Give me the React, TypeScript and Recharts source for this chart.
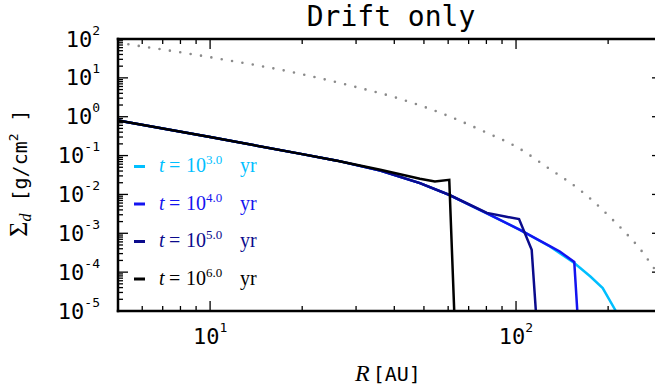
import { LineChart, Line, XAxis, YAxis } from "recharts"

// radius [AU] and dust surface density [g/cm^2]
const rInner = [5, 10, 20, 26, 36]
const sigmaInner = [0.8, 0.3, 0.109, 0.074, 0.041]

const r1e3 = [48.5, 60.4, 80.3, 103, 129, 155, 175, 192, 212]
const sigma1e3 = [0.0195, 0.0098, 0.00327, 0.00123, 4.58e-4, 1.72e-4, 7.7e-5, 3.9e-5, 1e-5]

const r1e4 = [48.5, 60.4, 80.3, 103, 129, 139, 155, 158.6]
const sigma1e4 = [0.0195, 0.0098, 0.00327, 0.00123, 4.7e-4, 3.4e-4, 1.82e-4, 1e-5]

const r1e5 = [48.5, 60.4, 80.3, 92.1, 102.3, 112.5, 116.1]
const sigma1e5 = [0.0195, 0.0098, 0.00335, 0.0027, 0.00232, 3.77e-4, 1e-5]

const r1e6 = [48.5, 54.3, 60.5, 62.8]
const sigma1e6 = [0.0252, 0.0215, 0.0237, 1e-5]

// gas profile (grey dotted)
const rGas = [5, 10, 20, 30, 40, 60, 80, 100, 130, 160, 180, 205, 228, 254, 280, 300]
const sigmaGas = [80, 34, 12.4, 5.8, 3.2, 1.05, 0.39, 0.17, 0.043, 0.0139, 0.0064, 0.0024, 0.00103, 4.0e-4, 1.4e-4, 6.5e-5]

const timeLabels = ["3.0", "4.0", "5.0", "6.0"]
const colors = ["#00bfff", "#1414f0", "#0b0b8c", "#000000"]

const xTicks = [6, 7, 8, 9, 10, 20, 30, 40, 50, 60, 70, 80, 90, 100, 200]
const yDecades = [-5, -4, -3, -2, -1, 0, 1, 2]
const minorSteps = [2, 3, 4, 5, 6, 7, 8, 9]

const yTicks: number[] = []
yDecades.forEach((d) => {
  yTicks.push(Math.pow(10, d))
  if (d < 2) minorSteps.forEach((m) => yTicks.push(m * Math.pow(10, d)))
})

const pts = (r: number[], s: number[]) => r.map((v, i) => ({ r: v, s: s[i] }))

const dustSeries = [
  pts([...rInner, ...r1e3], [...sigmaInner, ...sigma1e3]),
  pts([...rInner, ...r1e4], [...sigmaInner, ...sigma1e4]),
  pts([...rInner, ...r1e5], [...sigmaInner, ...sigma1e5]),
  pts([...rInner.slice(0, 4), 36, ...r1e6], [...sigmaInner.slice(0, 4), 0.043, ...sigma1e6]),
]
const gasData = pts(rGas, sigmaGas)

const mono = "DejaVu Sans Mono"
const serif = "Liberation Serif"

const isMajor = (v: number) => {
  const l = Math.log10(v)
  return Math.abs(l - Math.round(l)) < 1e-6
}
const expOf = (v: number) => String(Math.round(Math.log10(v)))

function TickLabel({ x, y, v, anchor }: any) {
  return (
    <text x={x} y={y} textAnchor={anchor} fontFamily={mono} fontSize={22} fill="#000">
      10<tspan dy={-12} fontSize={13}>{expOf(v)}</tspan>
    </text>
  )
}

function BottomTick({ x, y, payload }: any) {
  const major = isMajor(payload.value)
  return (
    <g>
      <line x1={x} x2={x} y1={y} y2={y - (major ? 10 : 5)} stroke="#000" strokeWidth={1.3} />
      {major && <TickLabel x={x} y={y + 33} v={payload.value} anchor="middle" />}
    </g>
  )
}

function TopTick({ x, y, payload }: any) {
  const major = isMajor(payload.value)
  return <line x1={x} x2={x} y1={y} y2={y + (major ? 10 : 5)} stroke="#000" strokeWidth={1.3} />
}

function LeftTick({ x, y, payload }: any) {
  const major = isMajor(payload.value)
  return (
    <g>
      <line x1={x} x2={x + (major ? 10 : 5)} y1={y} y2={y} stroke="#000" strokeWidth={1.3} />
      {major && <TickLabel x={x - 18} y={y + 7.5} v={payload.value} anchor="end" />}
    </g>
  )
}

function RightTick({ x, y, payload }: any) {
  const major = isMajor(payload.value)
  return <line x1={x} x2={x - (major ? 10 : 5)} y1={y} y2={y} stroke="#000" strokeWidth={1.3} />
}

const spine = { stroke: "#000", strokeWidth: 2.5, strokeLinecap: "square" as const }
const legendY = [166.5, 204, 241.5, 279]

export default function App() {
  return (
    <div style={{ position: "fixed", left: 0, top: 0, width: 655, height: 391, overflow: "hidden", background: "#fff" }}>
      <LineChart width={680} height={391} margin={{ top: 0, right: 0, bottom: 0, left: 0 }}>
        <XAxis
          dataKey="r"
          type="number"
          scale="log"
          domain={[5, 300]}
          allowDataOverflow
          ticks={xTicks}
          interval={0}
          height={80}
          tickSize={0}
          tickMargin={0}
          tickLine={false}
          axisLine={spine}
          tick={(p: any) => <BottomTick {...p} />}
        />
        <XAxis
          xAxisId="top"
          orientation="top"
          dataKey="r"
          type="number"
          scale="log"
          domain={[5, 300]}
          allowDataOverflow
          ticks={xTicks}
          interval={0}
          height={39}
          tickSize={0}
          tickMargin={0}
          tickLine={false}
          axisLine={spine}
          tick={(p: any) => <TopTick {...p} />}
        />
        <YAxis
          dataKey="s"
          type="number"
          scale="log"
          domain={[1e-5, 100]}
          allowDataOverflow
          ticks={yTicks}
          interval={0}
          width={118}
          tickSize={0}
          tickMargin={0}
          tickLine={false}
          axisLine={spine}
          tick={(p: any) => <LeftTick {...p} />}
        />
        <YAxis
          yAxisId="right"
          orientation="right"
          type="number"
          scale="log"
          domain={[1e-5, 100]}
          allowDataOverflow
          ticks={yTicks}
          interval={0}
          width={18}
          tickSize={0}
          tickMargin={0}
          tickLine={false}
          axisLine={spine}
          tick={(p: any) => <RightTick {...p} />}
        />
        <Line
          data={gasData}
          dataKey="s"
          type="monotone"
          stroke="#8a8a8a"
          strokeWidth={2.6}
          strokeDasharray="0 10.5"
          strokeLinecap="round"
          dot={false}
          isAnimationActive={false}
        />
        {dustSeries.map((d, i) => (
          <Line
            key={timeLabels[i]}
            data={d}
            dataKey="s"
            type="linear"
            stroke={colors[i]}
            strokeWidth={2.5}
            dot={false}
            isAnimationActive={false}
          />
        ))}
      </LineChart>
      <svg width={655} height={391} style={{ position: "absolute", left: 0, top: 0, pointerEvents: "none" }}>
        <text x={391} y={26} textAnchor="middle" fontFamily={mono} fontSize={28} fill="#000">
          Drift only
        </text>
        <text x={388} y={381} textAnchor="middle" fill="#000">
          <tspan fontFamily={serif} fontStyle="italic" fontSize={24}>R</tspan>
          <tspan dx={3} fontFamily={mono} fontSize={20}>[AU]</tspan>
        </text>
        <text transform="translate(27,173) rotate(-90)" textAnchor="middle" fill="#000">
          <tspan fontFamily={serif} fontSize={26}>Σ</tspan>
          <tspan fontFamily={serif} fontStyle="italic" fontSize={16} dy={4}>d</tspan>
          <tspan fontFamily={mono} fontSize={20} dy={-4}> [g/cm</tspan>
          <tspan fontFamily={mono} fontSize={13} dy={-9}>2</tspan>
          <tspan fontFamily={mono} fontSize={20} dy={9}> ]</tspan>
        </text>
        {timeLabels.map((t, i) => (
          <g key={t}>
            <line x1={134} x2={145} y1={legendY[i]} y2={legendY[i]} stroke={colors[i]} strokeWidth={3} />
            <text y={legendY[i] + 5.5} fontFamily={serif} fontSize={20} fill={colors[i]}>
              <tspan x={159} fontStyle="italic">t</tspan>
              <tspan x={169}>=</tspan>
              <tspan x={186}>10</tspan>
              <tspan dy={-8} fontSize={13}>{t}</tspan>
              <tspan x={240} dy={8}>yr</tspan>
            </text>
          </g>
        ))}
      </svg>
    </div>
  )
}
